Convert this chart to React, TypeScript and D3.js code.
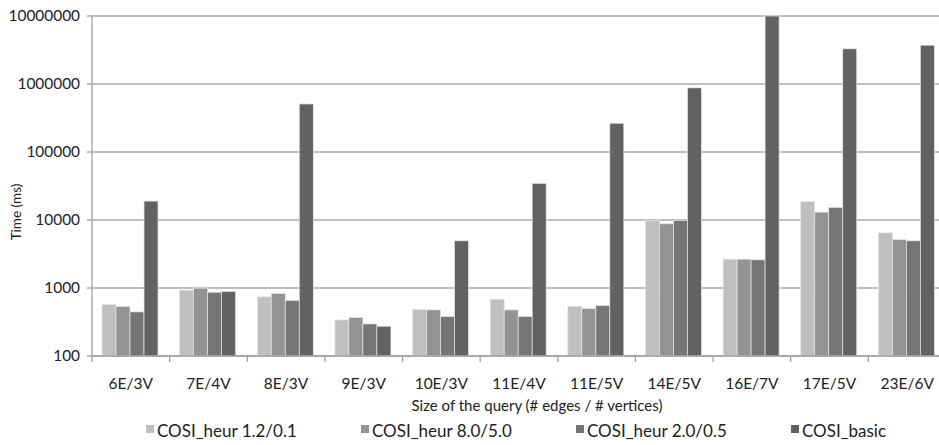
import React from 'react';
import * as d3 from 'd3';

const categories = ['6E/3V', '7E/4V', '8E/3V', '9E/3V', '10E/3V', '11E/4V', '11E/5V', '14E/5V', '16E/7V', '17E/5V', '23E/6V'];
const seriesNames = ['COSI_heur 1.2/0.1', 'COSI_heur 8.0/5.0', 'COSI_heur 2.0/0.5', 'COSI_basic'];
const heur12 = [572, 930, 740, 339, 482, 684, 540, 9860, 2655, 18800, 6470];
const heur80 = [534, 994, 830, 368, 476, 476, 499, 8790, 2655, 13060, 5170];
const heur20 = [445, 867, 655, 296, 380, 380, 552, 9860, 2595, 15350, 4940];
const basic = [18970, 888, 509000, 274, 4940, 34600, 265000, 877000, 10000000, 3290000, 3720000];
const yTicks = [100, 1000, 10000, 100000, 1000000, 10000000];
const colors = ['#bfbfbf', '#939393', '#757575', '#626262'];

const allSeries = [heur12, heur80, heur20, basic];

const W = 939;
const H = 445;
const margin = { top: 16, right: -7, bottom: 89, left: 92 };
const font = 'Lato, "Open Sans", sans-serif';

const App: React.FC = () => {
  const x = d3
    .scaleBand<string>()
    .domain(categories)
    .range([margin.left, W - margin.right]);

  const inner = d3
    .scaleBand<number>()
    .domain([0, 1, 2, 3])
    .range([10, 10 + 56]);

  const y = d3
    .scaleLog()
    .domain([100, 10000000])
    .range([H - margin.bottom, margin.top]);

  const y0 = y(100);
  const bw = x.bandwidth();

  return (
    <svg
      width={W}
      height={H}
      style={{ position: 'absolute', left: 0, top: 0, background: '#fff' }}
      fontFamily={font}
    >
      {/* grid */}
      <g>
        {yTicks.map((t) => (
          <line key={t} x1={margin.left} x2={W} y1={y(t)} y2={y(t)} stroke="#ababab" strokeWidth={1.3} />
        ))}
      </g>

      {/* bars */}
      <g>
        {categories.map((c, i) => (
          <g key={c} transform={`translate(${x(c)},0)`}>
            {allSeries.map((s, k) => (
              <rect
                key={k}
                x={inner(k)}
                y={y(s[i])}
                width={inner.bandwidth()}
                height={y0 - y(s[i])}
                fill={colors[k]}
                stroke="#e6e6e6"
                strokeWidth={0.7}
              />
            ))}
          </g>
        ))}
      </g>

      {/* y axis */}
      <g>
        <line x1={margin.left} x2={margin.left} y1={margin.top} y2={y0} stroke="#a0a0a0" strokeWidth={1.3} />
        {yTicks.map((t) => (
          <g key={t}>
            <line x1={margin.left - 5} x2={margin.left} y1={y(t)} y2={y(t)} stroke="#a0a0a0" strokeWidth={1.3} />
            <text x={80} y={y(t)} dy="0.35em" textAnchor="end" fontSize={15.4} fill="#222">
              {t}
            </text>
          </g>
        ))}
        <text
          transform={`translate(21,212) rotate(-90)`}
          textAnchor="middle"
          fontSize={13.5}
          fill="#222"
        >
          Time (ms)
        </text>
      </g>

      {/* x axis */}
      <g>
        <line x1={margin.left} x2={W} y1={y0} y2={y0} stroke="#a0a0a0" strokeWidth={1.3} />
        {categories.map((c) => (
          <g key={c}>
            <line x1={x(c)!} x2={x(c)!} y1={y0} y2={y0 + 6} stroke="#a0a0a0" strokeWidth={1.3} />
            <text x={x(c)! + bw / 2} y={389} textAnchor="middle" fontSize={15.5} fill="#222">
              {c}
            </text>
          </g>
        ))}
        <text x={537} y={411} textAnchor="middle" fontSize={15} fill="#222">
          Size of the query (# edges / # vertices)
        </text>
      </g>

      {/* legend */}
      <g>
        {seriesNames.map((n, k) => (
          <g key={n} transform={`translate(${146 + k * 215},0)`}>
            <rect x={0} y={425} width={8} height={8} fill={colors[k]} />
            <text x={11} y={437} fontSize={17} fill="#222">
              {n}
            </text>
          </g>
        ))}
      </g>
    </svg>
  );
};

export default App;
